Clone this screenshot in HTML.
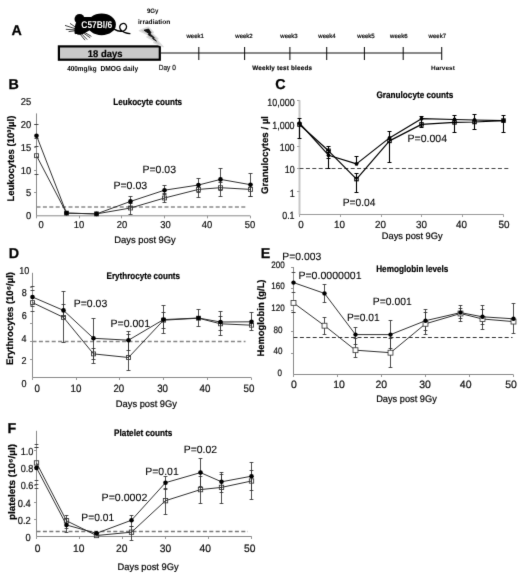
<!DOCTYPE html>
<html lang="en">
<head>
<meta charset="utf-8">
<title>Figure</title>
<style>
html,body{margin:0;padding:0;background:#fff;}
body{width:520px;height:575px;overflow:hidden;font-family:"Liberation Sans",Arial,sans-serif;}
svg{display:block;}
</style>
</head>
<body>
<svg width="520" height="575" viewBox="0 0 520 575" text-rendering="geometricPrecision" font-family='"Liberation Sans", Arial, sans-serif'>
<defs><filter id="soft" x="0" y="0" width="520" height="575" filterUnits="userSpaceOnUse" color-interpolation-filters="sRGB"><feConvolveMatrix order="3" kernelMatrix="0.0074 0.0713 0.0074 0.0713 0.6853 0.0713 0.0074 0.0713 0.0074" edgeMode="duplicate" preserveAlpha="true"/></filter></defs>
<g filter="url(#soft)">
<rect width="520" height="575" fill="#fff"/>
<g id="panelA">
<text x="11.50" y="35.20" font-size="14.3" text-anchor="start" fill="#000" font-weight="bold" stroke="#000" stroke-width="0.25">A</text>
<g fill="#000" stroke="none">
<ellipse cx="101.6" cy="24.4" rx="14.3" ry="10.8"/>
<circle cx="79.6" cy="19" r="5.1"/>
<path d="M76.2 22 C74.6 26 74.2 30 74.6 33.6 C77 35.4 81 35 84 33.4 C87 32 89.4 30.6 91 29 L91 17 L83 17 Z"/>
</g>
<g stroke="#000" stroke-width="0.75" fill="none">
<path d="M65 25.4 L77.4 29.4 M65.8 29.3 L76.5 30 M70 23.4 L78 28.8 M68.6 31.6 L76.5 30.6"/>
<path d="M81.4 33.6 L87.2 39.6 M83.4 33 L90.2 37.8 M80 34 L85 40.2 M84.6 32.4 L91.4 36.4"/>
</g>
<path d="M114.6 29.4 C117.4 31.2 121 31.6 123.6 30.8 C126.4 29.8 127.4 26.6 125.8 24.6 C124 22.6 120.6 23.4 119.8 26.2 C119.2 29 121.6 31.2 124.4 32.4 C126.4 33.2 128.4 33.6 129.9 33.7" fill="none" stroke="#000" stroke-width="1.3" stroke-linecap="round"/>
<text x="81.30" y="28.10" font-size="9.8" text-anchor="start" fill="#fff" font-weight="bold" textLength="30.90" lengthAdjust="spacingAndGlyphs">C57Bl/6</text>
<rect x="58.9" y="46.4" width="100.9" height="13.3" fill="#c9c9c9" stroke="#000" stroke-width="2.2"/>
<text x="87.80" y="57.30" font-size="9.8" text-anchor="start" fill="#000" font-weight="bold" textLength="34.60" lengthAdjust="spacingAndGlyphs" stroke="#000" stroke-width="0.2">18 days</text>
<text x="67.20" y="70.80" font-size="7.3" text-anchor="start" fill="#000" font-weight="bold" textLength="29.40" lengthAdjust="spacingAndGlyphs">400mg/kg</text>
<text x="100.50" y="70.80" font-size="7.3" text-anchor="start" fill="#000" font-weight="bold" textLength="37.60" lengthAdjust="spacingAndGlyphs">DMOG daily</text>
<line x1="160.80" y1="53.05" x2="441.70" y2="53.05" stroke="#111" stroke-width="1.1"/>
<line x1="198.80" y1="47.00" x2="198.80" y2="60.00" stroke="#111" stroke-width="1.05"/>
<line x1="244.60" y1="47.00" x2="244.60" y2="60.00" stroke="#111" stroke-width="1.05"/>
<line x1="289.90" y1="47.00" x2="289.90" y2="60.00" stroke="#111" stroke-width="1.05"/>
<line x1="326.70" y1="47.00" x2="326.70" y2="60.00" stroke="#111" stroke-width="1.05"/>
<line x1="364.40" y1="47.00" x2="364.40" y2="60.00" stroke="#111" stroke-width="1.05"/>
<line x1="403.20" y1="47.00" x2="403.20" y2="60.00" stroke="#111" stroke-width="1.05"/>
<line x1="441.70" y1="47.00" x2="441.70" y2="60.00" stroke="#111" stroke-width="1.05"/>
<text x="186.50" y="38.40" font-size="6.1" text-anchor="start" fill="#000" textLength="17.40" lengthAdjust="spacingAndGlyphs" stroke="#111" stroke-width="0.22">week1</text>
<text x="235.30" y="38.40" font-size="6.1" text-anchor="start" fill="#000" textLength="17.40" lengthAdjust="spacingAndGlyphs" stroke="#111" stroke-width="0.22">week2</text>
<text x="280.30" y="38.40" font-size="6.1" text-anchor="start" fill="#000" textLength="17.40" lengthAdjust="spacingAndGlyphs" stroke="#111" stroke-width="0.22">week3</text>
<text x="318.30" y="38.40" font-size="6.1" text-anchor="start" fill="#000" textLength="17.40" lengthAdjust="spacingAndGlyphs" stroke="#111" stroke-width="0.22">week4</text>
<text x="357.30" y="38.40" font-size="6.1" text-anchor="start" fill="#000" textLength="17.40" lengthAdjust="spacingAndGlyphs" stroke="#111" stroke-width="0.22">week5</text>
<text x="390.10" y="38.40" font-size="6.1" text-anchor="start" fill="#000" textLength="17.40" lengthAdjust="spacingAndGlyphs" stroke="#111" stroke-width="0.22">week6</text>
<text x="428.60" y="38.40" font-size="6.1" text-anchor="start" fill="#000" textLength="17.40" lengthAdjust="spacingAndGlyphs" stroke="#111" stroke-width="0.22">week7</text>
<text x="158.80" y="70.40" font-size="7.4" text-anchor="start" fill="#222" textLength="17.00" lengthAdjust="spacingAndGlyphs" stroke="#111" stroke-width="0.22">Day 0</text>
<text x="252.20" y="70.20" font-size="6.3" text-anchor="start" fill="#000" font-weight="bold" textLength="59.80" lengthAdjust="spacing" stroke="#000" stroke-width="0.15">Weekly test bleeds</text>
<text x="431.00" y="70.00" font-size="6.2" text-anchor="start" fill="#000" font-weight="bold" textLength="23.80" lengthAdjust="spacingAndGlyphs">Harvest</text>
<text x="146.90" y="13.00" font-size="6.5" text-anchor="start" fill="#000" font-weight="bold" textLength="11.60" lengthAdjust="spacingAndGlyphs">9Gy</text>
<text x="138.00" y="23.70" font-size="6.6" text-anchor="start" fill="#000" font-weight="bold" textLength="32.20" lengthAdjust="spacingAndGlyphs">irradiation</text>
<path d="M139.4 30.6 L148.1 27.1 L153.3 32.3 L152.1 33.5 L157.9 38.7 L156.7 39.8 L163.1 46.7 L153.8 42.7 L154.8 41.3 L146.9 36.9 L148.7 35.2 Z" fill="#c4c4c4" stroke="#dcdcdc" stroke-width="1.4" stroke-linejoin="round"/>
<path d="M144 30.2 L148.7 29.1 L151 32.9 L149.8 33.7 L154.4 37.8 L153.6 38.7 L156.4 41 L152.7 38.7 L153.3 37.7 L148.1 34.6 L149 33.5 Z" fill="#111" stroke="#111" stroke-width="0.9" stroke-linejoin="round"/>
</g>
<text x="8.60" y="88.60" font-size="14.3" text-anchor="start" fill="#000" font-weight="bold" stroke="#000" stroke-width="0.25">B</text>
<g>
<line x1="36.50" y1="113.40" x2="36.50" y2="215.80" stroke="#8a8a8a" stroke-width="1"/>
<line x1="36.50" y1="215.80" x2="250.20" y2="215.80" stroke="#8a8a8a" stroke-width="1"/>
<line x1="34.00" y1="192.50" x2="36.50" y2="192.50" stroke="#8a8a8a" stroke-width="0.9"/>
<line x1="34.00" y1="170.50" x2="36.50" y2="170.50" stroke="#8a8a8a" stroke-width="0.9"/>
<line x1="34.00" y1="147.50" x2="36.50" y2="147.50" stroke="#8a8a8a" stroke-width="0.9"/>
<line x1="34.00" y1="124.50" x2="36.50" y2="124.50" stroke="#8a8a8a" stroke-width="0.9"/>
<line x1="36.50" y1="215.80" x2="36.50" y2="218.30" stroke="#8a8a8a" stroke-width="0.9"/>
<line x1="79.50" y1="215.80" x2="79.50" y2="218.30" stroke="#8a8a8a" stroke-width="0.9"/>
<line x1="121.50" y1="215.80" x2="121.50" y2="218.30" stroke="#8a8a8a" stroke-width="0.9"/>
<line x1="164.50" y1="215.80" x2="164.50" y2="218.30" stroke="#8a8a8a" stroke-width="0.9"/>
<line x1="207.50" y1="215.80" x2="207.50" y2="218.30" stroke="#8a8a8a" stroke-width="0.9"/>
<line x1="250.50" y1="215.80" x2="250.50" y2="218.30" stroke="#8a8a8a" stroke-width="0.9"/>
<line x1="36.50" y1="207.00" x2="247.50" y2="207.00" stroke="#8a8a8a" stroke-width="1.5" stroke-dasharray="4 2.4"/>
<path d="M34.50 124.50H38.50M34.50 138.50H38.50" fill="none" stroke="#303030" stroke-width="0.85"/>
<path d="M34.50 146.50H38.50M34.50 174.50H38.50" fill="none" stroke="#303030" stroke-width="0.85"/>
<path d="M130.50 196.50V206.50M128.50 196.50H132.50M128.50 206.50H132.50" fill="none" stroke="#303030" stroke-width="0.85"/>
<path d="M130.50 203.50V214.50M128.50 203.50H132.50M128.50 214.50H132.50" fill="none" stroke="#303030" stroke-width="0.85"/>
<path d="M164.50 185.50V194.50M162.50 185.50H166.50M162.50 194.50H166.50" fill="none" stroke="#303030" stroke-width="0.85"/>
<path d="M164.50 193.50V202.50M162.50 193.50H166.50M162.50 202.50H166.50" fill="none" stroke="#303030" stroke-width="0.85"/>
<path d="M198.50 178.50V192.50M196.50 178.50H200.50M196.50 192.50H200.50" fill="none" stroke="#303030" stroke-width="0.85"/>
<path d="M198.50 184.50V197.50M196.50 184.50H200.50M196.50 197.50H200.50" fill="none" stroke="#303030" stroke-width="0.85"/>
<path d="M220.50 168.50V190.50M218.50 168.50H222.50M218.50 190.50H222.50" fill="none" stroke="#303030" stroke-width="0.85"/>
<path d="M220.50 182.50V196.50M218.50 182.50H222.50M218.50 196.50H222.50" fill="none" stroke="#303030" stroke-width="0.85"/>
<path d="M250.50 173.50V196.50M248.50 173.50H252.50M248.50 196.50H252.50" fill="none" stroke="#303030" stroke-width="0.85"/>
<path d="M250.50 184.50V196.50M248.50 184.50H252.50M248.50 196.50H252.50" fill="none" stroke="#303030" stroke-width="0.85"/>
<polyline points="36.50,155.70 66.50,213.10 96.50,213.90 130.50,208.00 164.50,198.00 198.50,189.40 220.50,187.70 250.50,189.40" fill="none" stroke="#262626" stroke-width="0.95" stroke-linejoin="round"/>
<polyline points="36.50,135.70 66.50,213.10 96.50,213.90 130.50,201.40 164.50,190.20 198.50,185.00 220.50,179.40 250.50,184.70" fill="none" stroke="#262626" stroke-width="0.95" stroke-linejoin="round"/>
<rect x="34.55" y="153.75" width="3.9" height="3.9" fill="none" stroke="#3a3a3a" stroke-width="0.9"/>
<rect x="64.55" y="211.15" width="3.9" height="3.9" fill="none" stroke="#3a3a3a" stroke-width="0.9"/>
<rect x="94.55" y="211.95" width="3.9" height="3.9" fill="none" stroke="#3a3a3a" stroke-width="0.9"/>
<rect x="128.55" y="206.05" width="3.9" height="3.9" fill="none" stroke="#3a3a3a" stroke-width="0.9"/>
<rect x="162.55" y="196.05" width="3.9" height="3.9" fill="none" stroke="#3a3a3a" stroke-width="0.9"/>
<rect x="196.55" y="187.45" width="3.9" height="3.9" fill="none" stroke="#3a3a3a" stroke-width="0.9"/>
<rect x="218.55" y="185.75" width="3.9" height="3.9" fill="none" stroke="#3a3a3a" stroke-width="0.9"/>
<rect x="248.55" y="187.45" width="3.9" height="3.9" fill="none" stroke="#3a3a3a" stroke-width="0.9"/>
<circle cx="36.50" cy="135.70" r="2.3" fill="#000"/>
<circle cx="66.50" cy="213.10" r="2.3" fill="#000"/>
<circle cx="96.50" cy="213.90" r="2.3" fill="#000"/>
<circle cx="130.50" cy="201.40" r="2.3" fill="#000"/>
<circle cx="164.50" cy="190.20" r="2.3" fill="#000"/>
<circle cx="198.50" cy="185.00" r="2.3" fill="#000"/>
<circle cx="220.50" cy="179.40" r="2.3" fill="#000"/>
<circle cx="250.50" cy="184.70" r="2.3" fill="#000"/>
<text transform="translate(31.3 105.2) scale(0.94 1)" font-size="10.0" text-anchor="end" fill="#111" stroke="#111" stroke-width="0.22">25</text>
<text transform="translate(31.3 128) scale(0.94 1)" font-size="10.0" text-anchor="end" fill="#111" stroke="#111" stroke-width="0.22">20</text>
<text transform="translate(31.3 150.9) scale(0.94 1)" font-size="10.0" text-anchor="end" fill="#111" stroke="#111" stroke-width="0.22">15</text>
<text transform="translate(31.3 173.5) scale(0.94 1)" font-size="10.0" text-anchor="end" fill="#111" stroke="#111" stroke-width="0.22">10</text>
<text transform="translate(31.3 196.3) scale(0.94 1)" font-size="10.0" text-anchor="end" fill="#111" stroke="#111" stroke-width="0.22">5</text>
<text transform="translate(31.3 219.1) scale(0.94 1)" font-size="10.0" text-anchor="end" fill="#111" stroke="#111" stroke-width="0.22">0</text>
<text transform="translate(41 228.3) scale(0.94 1)" font-size="10.0" text-anchor="middle" fill="#111" stroke="#111" stroke-width="0.22">0</text>
<text transform="translate(79 228.3) scale(0.94 1)" font-size="10.0" text-anchor="middle" fill="#111" stroke="#111" stroke-width="0.22">10</text>
<text transform="translate(122 228.3) scale(0.94 1)" font-size="10.0" text-anchor="middle" fill="#111" stroke="#111" stroke-width="0.22">20</text>
<text transform="translate(165.5 228.3) scale(0.94 1)" font-size="10.0" text-anchor="middle" fill="#111" stroke="#111" stroke-width="0.22">30</text>
<text transform="translate(207 228.3) scale(0.94 1)" font-size="10.0" text-anchor="middle" fill="#111" stroke="#111" stroke-width="0.22">40</text>
<text transform="translate(250 228.3) scale(0.94 1)" font-size="10.0" text-anchor="middle" fill="#111" stroke="#111" stroke-width="0.22">50</text>
<text x="113.30" y="104.92" font-size="9.4" text-anchor="start" fill="#000" font-weight="bold" textLength="68.80" lengthAdjust="spacingAndGlyphs" stroke="#000" stroke-width="0.2">Leukocyte counts</text>
<text x="114.30" y="242.85" font-size="9.5" text-anchor="start" fill="#000" textLength="61.50" lengthAdjust="spacingAndGlyphs" stroke="#111" stroke-width="0.22">Days post 9Gy</text>
<text transform="translate(14.20 201.60) rotate(-90)" font-size="9.6" font-weight="bold" fill="#000" stroke="#000" stroke-width="0.2" textLength="86.00" lengthAdjust="spacingAndGlyphs">Leukocytes (10³/µl)</text>
<text x="142.50" y="172.76" font-size="10.5" text-anchor="start" fill="#000" textLength="33.50" lengthAdjust="spacingAndGlyphs" stroke="#000" stroke-width="0.08">P=0.03</text>
<text x="113.40" y="188.76" font-size="10.5" text-anchor="start" fill="#000" textLength="33.80" lengthAdjust="spacingAndGlyphs" stroke="#000" stroke-width="0.08">P=0.03</text>
</g>
<text x="275.20" y="89.10" font-size="14.3" text-anchor="start" fill="#000" font-weight="bold" stroke="#000" stroke-width="0.25">C</text>
<g>
<line x1="299.50" y1="100.30" x2="299.50" y2="214.50" stroke="#c6c6c6" stroke-width="2.0"/>
<line x1="299.50" y1="214.50" x2="503.60" y2="214.50" stroke="#999" stroke-width="1.2"/>
<line x1="297.00" y1="100.50" x2="299.50" y2="100.50" stroke="#999" stroke-width="0.9"/>
<line x1="297.00" y1="123.50" x2="299.50" y2="123.50" stroke="#999" stroke-width="0.9"/>
<line x1="297.00" y1="146.50" x2="299.50" y2="146.50" stroke="#999" stroke-width="0.9"/>
<line x1="297.00" y1="168.50" x2="299.50" y2="168.50" stroke="#999" stroke-width="0.9"/>
<line x1="297.00" y1="191.50" x2="299.50" y2="191.50" stroke="#999" stroke-width="0.9"/>
<line x1="299.50" y1="214.50" x2="299.50" y2="217.00" stroke="#999" stroke-width="0.9"/>
<line x1="340.50" y1="214.50" x2="340.50" y2="217.00" stroke="#999" stroke-width="0.9"/>
<line x1="381.50" y1="214.50" x2="381.50" y2="217.00" stroke="#999" stroke-width="0.9"/>
<line x1="421.50" y1="214.50" x2="421.50" y2="217.00" stroke="#999" stroke-width="0.9"/>
<line x1="462.50" y1="214.50" x2="462.50" y2="217.00" stroke="#999" stroke-width="0.9"/>
<line x1="503.50" y1="214.50" x2="503.50" y2="217.00" stroke="#999" stroke-width="0.9"/>
<line x1="299.50" y1="168.50" x2="510.00" y2="168.50" stroke="#444" stroke-width="1.0" stroke-dasharray="4 2.4"/>
<path d="M299.50 118.50V138.50M297.50 118.50H301.50M297.50 138.50H301.50" fill="none" stroke="#000" stroke-width="1.1"/>
<path d="M328.50 146.50V168.50M326.50 146.50H330.50M326.50 168.50H330.50" fill="none" stroke="#000" stroke-width="1.1"/>
<path d="M328.50 150.50V158.50M326.50 150.50H330.50M326.50 158.50H330.50" fill="none" stroke="#000" stroke-width="1.1"/>
<path d="M356.50 156.50V163.50M354.50 156.50H358.50M354.50 163.50H358.50" fill="none" stroke="#000" stroke-width="1.1"/>
<path d="M356.50 173.50V192.50M354.50 173.50H358.50M354.50 192.50H358.50" fill="none" stroke="#000" stroke-width="1.1"/>
<path d="M389.50 131.50V162.50M387.50 131.50H391.50M387.50 162.50H391.50" fill="none" stroke="#000" stroke-width="1.1"/>
<path d="M421.50 116.50V127.50M419.50 116.50H423.50M419.50 127.50H423.50" fill="none" stroke="#000" stroke-width="1.1"/>
<path d="M454.50 115.50V132.50M452.50 115.50H456.50M452.50 132.50H456.50" fill="none" stroke="#000" stroke-width="1.1"/>
<path d="M474.50 114.50V129.50M472.50 114.50H476.50M472.50 129.50H476.50" fill="none" stroke="#000" stroke-width="1.1"/>
<path d="M503.50 115.50V132.50M501.50 115.50H505.50M501.50 132.50H505.50" fill="none" stroke="#000" stroke-width="1.1"/>
<polyline points="299.50,124.50 328.50,150.80 356.50,179.10 389.50,140.90 421.50,124.40 454.50,122.40 474.50,122.00 503.50,120.60" fill="none" stroke="#000" stroke-width="1.2" stroke-linejoin="round"/>
<polyline points="299.50,123.20 328.50,155.20 356.50,163.90 389.50,137.90 421.50,118.70 454.50,119.50 474.50,120.00 503.50,120.60" fill="none" stroke="#000" stroke-width="1.2" stroke-linejoin="round"/>
<rect x="297.80" y="122.80" width="3.4" height="3.4" fill="none" stroke="#000" stroke-width="1.1"/>
<rect x="326.80" y="149.10" width="3.4" height="3.4" fill="none" stroke="#000" stroke-width="1.1"/>
<rect x="354.80" y="177.40" width="3.4" height="3.4" fill="none" stroke="#000" stroke-width="1.1"/>
<rect x="387.80" y="139.20" width="3.4" height="3.4" fill="none" stroke="#000" stroke-width="1.1"/>
<rect x="419.80" y="122.70" width="3.4" height="3.4" fill="none" stroke="#000" stroke-width="1.1"/>
<rect x="452.80" y="120.70" width="3.4" height="3.4" fill="none" stroke="#000" stroke-width="1.1"/>
<rect x="472.80" y="120.30" width="3.4" height="3.4" fill="none" stroke="#000" stroke-width="1.1"/>
<rect x="501.80" y="118.90" width="3.4" height="3.4" fill="none" stroke="#000" stroke-width="1.1"/>
<circle cx="299.50" cy="123.20" r="1.9" fill="#000"/>
<circle cx="328.50" cy="155.20" r="1.9" fill="#000"/>
<circle cx="356.50" cy="163.90" r="1.9" fill="#000"/>
<circle cx="389.50" cy="137.90" r="1.9" fill="#000"/>
<circle cx="421.50" cy="118.70" r="1.9" fill="#000"/>
<circle cx="454.50" cy="119.50" r="1.9" fill="#000"/>
<circle cx="474.50" cy="120.00" r="1.9" fill="#000"/>
<circle cx="503.50" cy="120.60" r="1.9" fill="#000"/>
<text transform="translate(294.6 106.14) scale(0.86 1)" font-size="10.4" text-anchor="end" fill="#111" stroke="#111" stroke-width="0.22">10,000</text>
<text transform="translate(294.6 128.54) scale(0.86 1)" font-size="10.4" text-anchor="end" fill="#111" stroke="#111" stroke-width="0.22">1,000</text>
<text transform="translate(294.6 150.84) scale(0.86 1)" font-size="10.4" text-anchor="end" fill="#111" stroke="#111" stroke-width="0.22">100</text>
<text transform="translate(294.6 172.64) scale(0.86 1)" font-size="10.4" text-anchor="end" fill="#111" stroke="#111" stroke-width="0.22">10</text>
<text transform="translate(294.6 197.14) scale(0.86 1)" font-size="10.4" text-anchor="end" fill="#111" stroke="#111" stroke-width="0.22">1</text>
<text transform="translate(294.6 219.44) scale(0.86 1)" font-size="10.4" text-anchor="end" fill="#111" stroke="#111" stroke-width="0.22">0.1</text>
<text transform="translate(301 228.44) scale(0.95 1)" font-size="10.4" text-anchor="middle" fill="#111" stroke="#111" stroke-width="0.22">0</text>
<text transform="translate(339.5 228.44) scale(0.95 1)" font-size="10.4" text-anchor="middle" fill="#111" stroke="#111" stroke-width="0.22">10</text>
<text transform="translate(380.5 228.44) scale(0.95 1)" font-size="10.4" text-anchor="middle" fill="#111" stroke="#111" stroke-width="0.22">20</text>
<text transform="translate(421.5 228.44) scale(0.95 1)" font-size="10.4" text-anchor="middle" fill="#111" stroke="#111" stroke-width="0.22">30</text>
<text transform="translate(461.5 228.44) scale(0.95 1)" font-size="10.4" text-anchor="middle" fill="#111" stroke="#111" stroke-width="0.22">40</text>
<text transform="translate(504 228.44) scale(0.95 1)" font-size="10.4" text-anchor="middle" fill="#111" stroke="#111" stroke-width="0.22">50</text>
<text x="376.40" y="98.12" font-size="9.4" text-anchor="start" fill="#000" font-weight="bold" textLength="77.00" lengthAdjust="spacingAndGlyphs" stroke="#000" stroke-width="0.2">Granulocyte counts</text>
<text x="381.80" y="239.22" font-size="9.4" text-anchor="start" fill="#000" textLength="60.80" lengthAdjust="spacingAndGlyphs" stroke="#111" stroke-width="0.22">Days post 9Gy</text>
<text transform="translate(268.20 194.00) rotate(-90)" font-size="9.6" font-weight="bold" fill="#000" stroke="#000" stroke-width="0.2" textLength="78.00" lengthAdjust="spacingAndGlyphs">Granulocytes / µl</text>
<text x="342.70" y="206.26" font-size="10.5" text-anchor="start" fill="#000" textLength="32.80" lengthAdjust="spacingAndGlyphs" stroke="#000" stroke-width="0.08">P=0.04</text>
<text x="407.50" y="142.26" font-size="10.5" text-anchor="start" fill="#000" textLength="39.50" lengthAdjust="spacingAndGlyphs" stroke="#000" stroke-width="0.08">P=0.004</text>
</g>
<text x="8.80" y="258.00" font-size="14.3" text-anchor="start" fill="#000" font-weight="bold" stroke="#000" stroke-width="0.25">D</text>
<g>
<line x1="32.50" y1="272.80" x2="32.50" y2="377.50" stroke="#8a8a8a" stroke-width="1"/>
<line x1="32.50" y1="377.50" x2="251.10" y2="377.50" stroke="#8a8a8a" stroke-width="1"/>
<line x1="30.00" y1="287.50" x2="32.50" y2="287.50" stroke="#8a8a8a" stroke-width="0.9"/>
<line x1="30.00" y1="305.50" x2="32.50" y2="305.50" stroke="#8a8a8a" stroke-width="0.9"/>
<line x1="30.00" y1="323.50" x2="32.50" y2="323.50" stroke="#8a8a8a" stroke-width="0.9"/>
<line x1="30.00" y1="341.50" x2="32.50" y2="341.50" stroke="#8a8a8a" stroke-width="0.9"/>
<line x1="30.00" y1="359.50" x2="32.50" y2="359.50" stroke="#8a8a8a" stroke-width="0.9"/>
<line x1="32.50" y1="377.50" x2="32.50" y2="380.00" stroke="#8a8a8a" stroke-width="0.9"/>
<line x1="76.50" y1="377.50" x2="76.50" y2="380.00" stroke="#8a8a8a" stroke-width="0.9"/>
<line x1="119.50" y1="377.50" x2="119.50" y2="380.00" stroke="#8a8a8a" stroke-width="0.9"/>
<line x1="163.50" y1="377.50" x2="163.50" y2="380.00" stroke="#8a8a8a" stroke-width="0.9"/>
<line x1="207.50" y1="377.50" x2="207.50" y2="380.00" stroke="#8a8a8a" stroke-width="0.9"/>
<line x1="251.50" y1="377.50" x2="251.50" y2="380.00" stroke="#8a8a8a" stroke-width="0.9"/>
<line x1="32.50" y1="341.50" x2="245.50" y2="341.50" stroke="#858585" stroke-width="1.4" stroke-dasharray="4 2.4"/>
<path d="M30.50 286.50H34.50M30.50 311.50H34.50" fill="none" stroke="#303030" stroke-width="0.85"/>
<path d="M30.50 290.50H34.50M30.50 306.50H34.50" fill="none" stroke="#303030" stroke-width="0.85"/>
<path d="M63.50 291.50V342.50M61.50 291.50H65.50M61.50 342.50H65.50" fill="none" stroke="#303030" stroke-width="0.85"/>
<path d="M63.50 304.50V316.50M61.50 304.50H65.50M61.50 316.50H65.50" fill="none" stroke="#303030" stroke-width="0.85"/>
<path d="M93.50 318.50V363.50M91.50 318.50H95.50M91.50 363.50H95.50" fill="none" stroke="#303030" stroke-width="0.85"/>
<path d="M93.50 348.50V359.50M91.50 348.50H95.50M91.50 359.50H95.50" fill="none" stroke="#303030" stroke-width="0.85"/>
<path d="M128.50 331.50V370.50M126.50 331.50H130.50M126.50 370.50H130.50" fill="none" stroke="#303030" stroke-width="0.85"/>
<path d="M128.50 334.50V350.50M126.50 334.50H130.50M126.50 350.50H130.50" fill="none" stroke="#303030" stroke-width="0.85"/>
<path d="M163.50 305.50V333.50M161.50 305.50H165.50M161.50 333.50H165.50" fill="none" stroke="#303030" stroke-width="0.85"/>
<path d="M163.50 312.50V328.50M161.50 312.50H165.50M161.50 328.50H165.50" fill="none" stroke="#303030" stroke-width="0.85"/>
<path d="M198.50 309.50V326.50M196.50 309.50H200.50M196.50 326.50H200.50" fill="none" stroke="#303030" stroke-width="0.85"/>
<path d="M220.50 311.50V335.50M218.50 311.50H222.50M218.50 335.50H222.50" fill="none" stroke="#303030" stroke-width="0.85"/>
<path d="M220.50 316.50V330.50M218.50 316.50H222.50M218.50 330.50H222.50" fill="none" stroke="#303030" stroke-width="0.85"/>
<path d="M251.50 312.50V330.50M249.50 312.50H253.50M249.50 330.50H253.50" fill="none" stroke="#303030" stroke-width="0.85"/>
<polyline points="32.50,302.60 63.50,317.40 93.50,353.90 128.50,357.50 163.50,320.20 198.50,318.20 220.50,323.80 251.50,325.20" fill="none" stroke="#262626" stroke-width="0.95" stroke-linejoin="round"/>
<polyline points="32.50,297.00 63.50,310.40 93.50,338.30 128.50,340.20 163.50,319.60 198.50,318.00 220.50,322.00 251.50,321.80" fill="none" stroke="#262626" stroke-width="0.95" stroke-linejoin="round"/>
<rect x="30.55" y="300.65" width="3.9" height="3.9" fill="none" stroke="#3a3a3a" stroke-width="0.9"/>
<rect x="61.55" y="315.45" width="3.9" height="3.9" fill="none" stroke="#3a3a3a" stroke-width="0.9"/>
<rect x="91.55" y="351.95" width="3.9" height="3.9" fill="none" stroke="#3a3a3a" stroke-width="0.9"/>
<rect x="126.55" y="355.55" width="3.9" height="3.9" fill="none" stroke="#3a3a3a" stroke-width="0.9"/>
<rect x="161.55" y="318.25" width="3.9" height="3.9" fill="none" stroke="#3a3a3a" stroke-width="0.9"/>
<rect x="196.55" y="316.25" width="3.9" height="3.9" fill="none" stroke="#3a3a3a" stroke-width="0.9"/>
<rect x="218.55" y="321.85" width="3.9" height="3.9" fill="none" stroke="#3a3a3a" stroke-width="0.9"/>
<rect x="249.55" y="323.25" width="3.9" height="3.9" fill="none" stroke="#3a3a3a" stroke-width="0.9"/>
<circle cx="32.50" cy="297.00" r="2.3" fill="#000"/>
<circle cx="63.50" cy="310.40" r="2.3" fill="#000"/>
<circle cx="93.50" cy="338.30" r="2.3" fill="#000"/>
<circle cx="128.50" cy="340.20" r="2.3" fill="#000"/>
<circle cx="163.50" cy="319.60" r="2.3" fill="#000"/>
<circle cx="198.50" cy="318.00" r="2.3" fill="#000"/>
<circle cx="220.50" cy="322.00" r="2.3" fill="#000"/>
<circle cx="251.50" cy="321.80" r="2.3" fill="#000"/>
<text transform="translate(29.2 273.7) scale(0.9 1)" font-size="10.0" text-anchor="end" fill="#111" stroke="#111" stroke-width="0.22">10</text>
<text transform="translate(26.8 295.8) scale(0.9 1)" font-size="10.0" text-anchor="end" fill="#111" stroke="#111" stroke-width="0.22">8</text>
<text transform="translate(26.8 318.7) scale(0.9 1)" font-size="10.0" text-anchor="end" fill="#111" stroke="#111" stroke-width="0.22">6</text>
<text transform="translate(26.6 342) scale(0.9 1)" font-size="10.0" text-anchor="end" fill="#111" stroke="#111" stroke-width="0.22">4</text>
<text transform="translate(26.6 363.8) scale(0.9 1)" font-size="10.0" text-anchor="end" fill="#111" stroke="#111" stroke-width="0.22">2</text>
<text transform="translate(26.6 386.9) scale(0.9 1)" font-size="10.0" text-anchor="end" fill="#111" stroke="#111" stroke-width="0.22">0</text>
<text transform="translate(37.2 391.51) scale(0.92 1)" font-size="10.6" text-anchor="middle" fill="#111" stroke="#111" stroke-width="0.22">0</text>
<text transform="translate(76 391.51) scale(0.92 1)" font-size="10.6" text-anchor="middle" fill="#111" stroke="#111" stroke-width="0.22">10</text>
<text transform="translate(118.8 391.51) scale(0.92 1)" font-size="10.6" text-anchor="middle" fill="#111" stroke="#111" stroke-width="0.22">20</text>
<text transform="translate(162.6 391.51) scale(0.92 1)" font-size="10.6" text-anchor="middle" fill="#111" stroke="#111" stroke-width="0.22">30</text>
<text transform="translate(205 391.51) scale(0.92 1)" font-size="10.6" text-anchor="middle" fill="#111" stroke="#111" stroke-width="0.22">40</text>
<text transform="translate(249 391.51) scale(0.92 1)" font-size="10.6" text-anchor="middle" fill="#111" stroke="#111" stroke-width="0.22">50</text>
<text x="106.60" y="278.62" font-size="9.4" text-anchor="start" fill="#000" font-weight="bold" textLength="73.40" lengthAdjust="spacingAndGlyphs" stroke="#000" stroke-width="0.2">Erythrocyte counts</text>
<text x="115.80" y="407.45" font-size="9.5" text-anchor="start" fill="#000" textLength="61.20" lengthAdjust="spacingAndGlyphs" stroke="#111" stroke-width="0.22">Days post 9Gy</text>
<text transform="translate(12.80 365.00) rotate(-90)" font-size="9.6" font-weight="bold" fill="#000" stroke="#000" stroke-width="0.2" textLength="93.00" lengthAdjust="spacingAndGlyphs">Erythrocytes (10⁶/µl)</text>
<text x="73.80" y="307.26" font-size="10.5" text-anchor="start" fill="#000" textLength="33.40" lengthAdjust="spacingAndGlyphs" stroke="#000" stroke-width="0.08">P=0.03</text>
<text x="110.50" y="326.96" font-size="10.5" text-anchor="start" fill="#000" textLength="39.50" lengthAdjust="spacingAndGlyphs" stroke="#000" stroke-width="0.08">P=0.001</text>
</g>
<text x="260.80" y="258.20" font-size="14.3" text-anchor="start" fill="#000" font-weight="bold" stroke="#000" stroke-width="0.25">E</text>
<g>
<line x1="293.50" y1="267.00" x2="293.50" y2="374.50" stroke="#8a8a8a" stroke-width="1"/>
<line x1="293.50" y1="374.50" x2="513.30" y2="374.50" stroke="#8a8a8a" stroke-width="1"/>
<line x1="291.00" y1="267.50" x2="293.50" y2="267.50" stroke="#8a8a8a" stroke-width="0.9"/>
<line x1="291.00" y1="288.50" x2="293.50" y2="288.50" stroke="#8a8a8a" stroke-width="0.9"/>
<line x1="291.00" y1="310.50" x2="293.50" y2="310.50" stroke="#8a8a8a" stroke-width="0.9"/>
<line x1="291.00" y1="331.50" x2="293.50" y2="331.50" stroke="#8a8a8a" stroke-width="0.9"/>
<line x1="291.00" y1="353.50" x2="293.50" y2="353.50" stroke="#8a8a8a" stroke-width="0.9"/>
<line x1="293.50" y1="374.50" x2="293.50" y2="377.00" stroke="#8a8a8a" stroke-width="0.9"/>
<line x1="337.50" y1="374.50" x2="337.50" y2="377.00" stroke="#8a8a8a" stroke-width="0.9"/>
<line x1="381.50" y1="374.50" x2="381.50" y2="377.00" stroke="#8a8a8a" stroke-width="0.9"/>
<line x1="425.50" y1="374.50" x2="425.50" y2="377.00" stroke="#8a8a8a" stroke-width="0.9"/>
<line x1="469.50" y1="374.50" x2="469.50" y2="377.00" stroke="#8a8a8a" stroke-width="0.9"/>
<line x1="513.50" y1="374.50" x2="513.50" y2="377.00" stroke="#8a8a8a" stroke-width="0.9"/>
<line x1="293.50" y1="337.50" x2="512.50" y2="337.50" stroke="#333" stroke-width="1.0" stroke-dasharray="4 2.4"/>
<path d="M291.60 272.50H295.40M291.60 312.50H295.40" fill="none" stroke="#303030" stroke-width="0.85"/>
<path d="M291.60 292.50H295.40M291.60 312.50H295.40" fill="none" stroke="#303030" stroke-width="0.85"/>
<path d="M324.50 284.50V302.50M322.60 284.50H326.40M322.60 302.50H326.40" fill="none" stroke="#303030" stroke-width="0.85"/>
<path d="M324.50 317.50V334.50M322.60 317.50H326.40M322.60 334.50H326.40" fill="none" stroke="#303030" stroke-width="0.85"/>
<path d="M355.50 327.50V357.50M353.60 327.50H357.40M353.60 357.50H357.40" fill="none" stroke="#303030" stroke-width="0.85"/>
<path d="M355.50 338.50V344.50M353.60 338.50H357.40M353.60 344.50H357.40" fill="none" stroke="#303030" stroke-width="0.85"/>
<path d="M390.50 320.50V367.50M388.60 320.50H392.40M388.60 367.50H392.40" fill="none" stroke="#303030" stroke-width="0.85"/>
<path d="M390.50 338.50V348.50M388.60 338.50H392.40M388.60 348.50H392.40" fill="none" stroke="#303030" stroke-width="0.85"/>
<path d="M425.50 309.50V334.50M423.60 309.50H427.40M423.60 334.50H427.40" fill="none" stroke="#303030" stroke-width="0.85"/>
<path d="M425.50 312.50V330.50M423.60 312.50H427.40M423.60 330.50H427.40" fill="none" stroke="#303030" stroke-width="0.85"/>
<path d="M460.50 305.50V321.50M458.60 305.50H462.40M458.60 321.50H462.40" fill="none" stroke="#303030" stroke-width="0.85"/>
<path d="M460.50 308.50V318.50M458.60 308.50H462.40M458.60 318.50H462.40" fill="none" stroke="#303030" stroke-width="0.85"/>
<path d="M482.50 305.50V329.50M480.60 305.50H484.40M480.60 329.50H484.40" fill="none" stroke="#303030" stroke-width="0.85"/>
<path d="M482.50 309.50V324.50M480.60 309.50H484.40M480.60 324.50H484.40" fill="none" stroke="#303030" stroke-width="0.85"/>
<path d="M513.50 303.50V333.50M511.60 303.50H515.40M511.60 333.50H515.40" fill="none" stroke="#303030" stroke-width="0.85"/>
<polyline points="293.50,302.90 324.50,325.70 355.50,350.20 390.50,352.70 425.50,323.80 460.50,313.50 482.50,319.00 513.50,321.60" fill="none" stroke="#262626" stroke-width="0.95" stroke-linejoin="round"/>
<polyline points="293.50,282.60 324.50,293.40 355.50,334.60 390.50,334.60 425.50,320.70 460.50,312.60 482.50,316.80 513.50,318.80" fill="none" stroke="#262626" stroke-width="0.95" stroke-linejoin="round"/>
<rect x="291.05" y="300.45" width="4.9" height="4.9" fill="#fff" stroke="#3a3a3a" stroke-width="0.85"/>
<rect x="322.05" y="323.25" width="4.9" height="4.9" fill="#fff" stroke="#3a3a3a" stroke-width="0.85"/>
<rect x="353.05" y="347.75" width="4.9" height="4.9" fill="#fff" stroke="#3a3a3a" stroke-width="0.85"/>
<rect x="388.05" y="350.25" width="4.9" height="4.9" fill="#fff" stroke="#3a3a3a" stroke-width="0.85"/>
<rect x="423.05" y="321.35" width="4.9" height="4.9" fill="#fff" stroke="#3a3a3a" stroke-width="0.85"/>
<rect x="458.05" y="311.05" width="4.9" height="4.9" fill="#fff" stroke="#3a3a3a" stroke-width="0.85"/>
<rect x="480.05" y="316.55" width="4.9" height="4.9" fill="#fff" stroke="#3a3a3a" stroke-width="0.85"/>
<rect x="511.05" y="319.15" width="4.9" height="4.9" fill="#fff" stroke="#3a3a3a" stroke-width="0.85"/>
<circle cx="293.50" cy="282.60" r="2.2" fill="#000"/>
<circle cx="324.50" cy="293.40" r="2.2" fill="#000"/>
<circle cx="355.50" cy="334.60" r="2.2" fill="#000"/>
<circle cx="390.50" cy="334.60" r="2.2" fill="#000"/>
<circle cx="425.50" cy="320.70" r="2.2" fill="#000"/>
<circle cx="460.50" cy="312.60" r="2.2" fill="#000"/>
<circle cx="482.50" cy="316.80" r="2.2" fill="#000"/>
<circle cx="513.50" cy="318.80" r="2.2" fill="#000"/>
<text transform="translate(278 267.89) scale(0.86 1)" font-size="9.4" text-anchor="middle" fill="#111" stroke="#111" stroke-width="0.22">200</text>
<text transform="translate(278 289.49) scale(0.86 1)" font-size="9.4" text-anchor="middle" fill="#111" stroke="#111" stroke-width="0.22">160</text>
<text transform="translate(278 311.09) scale(0.86 1)" font-size="9.4" text-anchor="middle" fill="#111" stroke="#111" stroke-width="0.22">120</text>
<text transform="translate(278 332.89) scale(0.86 1)" font-size="9.4" text-anchor="middle" fill="#111" stroke="#111" stroke-width="0.22">80</text>
<text transform="translate(278 354.49) scale(0.86 1)" font-size="9.4" text-anchor="middle" fill="#111" stroke="#111" stroke-width="0.22">40</text>
<text transform="translate(279.8 376.09) scale(0.86 1)" font-size="9.4" text-anchor="middle" fill="#111" stroke="#111" stroke-width="0.22">0</text>
<text transform="translate(293.8 387.91) scale(0.99 1)" font-size="10.6" text-anchor="middle" fill="#111" stroke="#111" stroke-width="0.22">0</text>
<text transform="translate(339 387.91) scale(0.99 1)" font-size="10.6" text-anchor="middle" fill="#111" stroke="#111" stroke-width="0.22">10</text>
<text transform="translate(381.3 387.91) scale(0.99 1)" font-size="10.6" text-anchor="middle" fill="#111" stroke="#111" stroke-width="0.22">20</text>
<text transform="translate(425 387.91) scale(0.99 1)" font-size="10.6" text-anchor="middle" fill="#111" stroke="#111" stroke-width="0.22">30</text>
<text transform="translate(465.7 387.91) scale(0.99 1)" font-size="10.6" text-anchor="middle" fill="#111" stroke="#111" stroke-width="0.22">40</text>
<text transform="translate(511 387.91) scale(0.99 1)" font-size="10.6" text-anchor="middle" fill="#111" stroke="#111" stroke-width="0.22">50</text>
<text x="376.20" y="272.02" font-size="9.4" text-anchor="start" fill="#000" font-weight="bold" textLength="72.20" lengthAdjust="spacingAndGlyphs" stroke="#000" stroke-width="0.2">Hemoglobin levels</text>
<text x="376.20" y="401.55" font-size="9.5" text-anchor="start" fill="#000" textLength="60.60" lengthAdjust="spacingAndGlyphs" stroke="#111" stroke-width="0.22">Days post 9Gy</text>
<text transform="translate(264.30 356.50) rotate(-90)" font-size="9.6" font-weight="bold" fill="#000" stroke="#000" stroke-width="0.2" textLength="77.00" lengthAdjust="spacingAndGlyphs">Hemoglobin (g/L)</text>
<text x="282.30" y="260.46" font-size="10.5" text-anchor="start" fill="#000" textLength="38.90" lengthAdjust="spacingAndGlyphs" stroke="#000" stroke-width="0.08">P=0.003</text>
<text x="298.40" y="279.26" font-size="10.5" text-anchor="start" fill="#000" textLength="63.20" lengthAdjust="spacingAndGlyphs" stroke="#000" stroke-width="0.08">P=0.0000001</text>
<text x="346.90" y="320.56" font-size="10.5" text-anchor="start" fill="#000" textLength="32.80" lengthAdjust="spacingAndGlyphs" stroke="#000" stroke-width="0.08">P=0.01</text>
<text x="372.80" y="305.26" font-size="10.5" text-anchor="start" fill="#000" textLength="38.90" lengthAdjust="spacingAndGlyphs" stroke="#000" stroke-width="0.08">P=0.001</text>
</g>
<text x="7.60" y="433.40" font-size="14.3" text-anchor="start" fill="#000" font-weight="bold" stroke="#000" stroke-width="0.25">F</text>
<g>
<line x1="36.50" y1="430.80" x2="36.50" y2="536.50" stroke="#8a8a8a" stroke-width="1"/>
<line x1="36.50" y1="536.50" x2="251.70" y2="536.50" stroke="#8a8a8a" stroke-width="1"/>
<line x1="34.00" y1="450.50" x2="36.50" y2="450.50" stroke="#8a8a8a" stroke-width="0.9"/>
<line x1="34.00" y1="467.50" x2="36.50" y2="467.50" stroke="#8a8a8a" stroke-width="0.9"/>
<line x1="34.00" y1="485.50" x2="36.50" y2="485.50" stroke="#8a8a8a" stroke-width="0.9"/>
<line x1="34.00" y1="502.50" x2="36.50" y2="502.50" stroke="#8a8a8a" stroke-width="0.9"/>
<line x1="34.00" y1="519.50" x2="36.50" y2="519.50" stroke="#8a8a8a" stroke-width="0.9"/>
<line x1="36.50" y1="536.50" x2="36.50" y2="539.00" stroke="#8a8a8a" stroke-width="0.9"/>
<line x1="79.50" y1="536.50" x2="79.50" y2="539.00" stroke="#8a8a8a" stroke-width="0.9"/>
<line x1="122.50" y1="536.50" x2="122.50" y2="539.00" stroke="#8a8a8a" stroke-width="0.9"/>
<line x1="165.50" y1="536.50" x2="165.50" y2="539.00" stroke="#8a8a8a" stroke-width="0.9"/>
<line x1="208.50" y1="536.50" x2="208.50" y2="539.00" stroke="#8a8a8a" stroke-width="0.9"/>
<line x1="251.50" y1="536.50" x2="251.50" y2="539.00" stroke="#8a8a8a" stroke-width="0.9"/>
<line x1="36.50" y1="531.50" x2="248.00" y2="531.50" stroke="#787878" stroke-width="1.3" stroke-dasharray="4 2.4"/>
<path d="M34.60 444.50H38.40M34.60 488.50H38.40" fill="none" stroke="#303030" stroke-width="0.85"/>
<path d="M34.60 447.50H38.40M34.60 480.50H38.40" fill="none" stroke="#303030" stroke-width="0.85"/>
<path d="M34.60 447.50H38.40M34.60 484.50H38.40" fill="none" stroke="#303030" stroke-width="0.85"/>
<path d="M66.50 515.50V532.50M64.60 515.50H68.40M64.60 532.50H68.40" fill="none" stroke="#303030" stroke-width="0.85"/>
<path d="M66.50 518.50V528.50M64.60 518.50H68.40M64.60 528.50H68.40" fill="none" stroke="#303030" stroke-width="0.85"/>
<path d="M131.50 515.50V526.50M129.60 515.50H133.40M129.60 526.50H133.40" fill="none" stroke="#303030" stroke-width="0.85"/>
<path d="M131.50 526.50V540.50M129.60 526.50H133.40M129.60 540.50H133.40" fill="none" stroke="#303030" stroke-width="0.85"/>
<path d="M165.50 476.50V489.50M163.60 476.50H167.40M163.60 489.50H167.40" fill="none" stroke="#303030" stroke-width="0.85"/>
<path d="M165.50 488.50V514.50M163.60 488.50H167.40M163.60 514.50H167.40" fill="none" stroke="#303030" stroke-width="0.85"/>
<path d="M200.50 458.50V486.50M198.60 458.50H202.40M198.60 486.50H202.40" fill="none" stroke="#303030" stroke-width="0.85"/>
<path d="M200.50 476.50V503.50M198.60 476.50H202.40M198.60 503.50H202.40" fill="none" stroke="#303030" stroke-width="0.85"/>
<path d="M221.50 472.50V492.50M219.60 472.50H223.40M219.60 492.50H223.40" fill="none" stroke="#303030" stroke-width="0.85"/>
<path d="M221.50 474.50V503.50M219.60 474.50H223.40M219.60 503.50H223.40" fill="none" stroke="#303030" stroke-width="0.85"/>
<path d="M251.50 462.50V490.50M249.60 462.50H253.40M249.60 490.50H253.40" fill="none" stroke="#303030" stroke-width="0.85"/>
<path d="M251.50 470.50V499.50M249.60 470.50H253.40M249.60 499.50H253.40" fill="none" stroke="#303030" stroke-width="0.85"/>
<polyline points="36.50,462.90 66.50,520.80 96.50,535.50 131.50,532.20 165.50,500.70 200.50,489.60 221.50,487.40 251.50,481.00" fill="none" stroke="#262626" stroke-width="0.95" stroke-linejoin="round"/>
<polyline points="36.50,467.90 66.50,525.00 96.50,533.30 131.50,520.20 165.50,482.70 200.50,472.60 221.50,481.80 251.50,476.20" fill="none" stroke="#262626" stroke-width="0.95" stroke-linejoin="round"/>
<rect x="34.35" y="460.75" width="4.3" height="4.3" fill="none" stroke="#3a3a3a" stroke-width="0.9"/>
<rect x="64.35" y="518.65" width="4.3" height="4.3" fill="none" stroke="#3a3a3a" stroke-width="0.9"/>
<rect x="94.35" y="533.35" width="4.3" height="4.3" fill="none" stroke="#3a3a3a" stroke-width="0.9"/>
<rect x="129.35" y="530.05" width="4.3" height="4.3" fill="none" stroke="#3a3a3a" stroke-width="0.9"/>
<rect x="163.35" y="498.55" width="4.3" height="4.3" fill="none" stroke="#3a3a3a" stroke-width="0.9"/>
<rect x="198.35" y="487.45" width="4.3" height="4.3" fill="none" stroke="#3a3a3a" stroke-width="0.9"/>
<rect x="219.35" y="485.25" width="4.3" height="4.3" fill="none" stroke="#3a3a3a" stroke-width="0.9"/>
<rect x="249.35" y="478.85" width="4.3" height="4.3" fill="none" stroke="#3a3a3a" stroke-width="0.9"/>
<circle cx="36.50" cy="467.90" r="2.3" fill="#000"/>
<circle cx="66.50" cy="525.00" r="2.3" fill="#000"/>
<circle cx="96.50" cy="533.30" r="2.3" fill="#000"/>
<circle cx="131.50" cy="520.20" r="2.3" fill="#000"/>
<circle cx="165.50" cy="482.70" r="2.3" fill="#000"/>
<circle cx="200.50" cy="472.60" r="2.3" fill="#000"/>
<circle cx="221.50" cy="481.80" r="2.3" fill="#000"/>
<circle cx="251.50" cy="476.20" r="2.3" fill="#000"/>
<text transform="translate(33.4 455.07) scale(0.9 1)" font-size="10.2" text-anchor="end" fill="#111" stroke="#111" stroke-width="0.22">1.0</text>
<text transform="translate(33.4 472.07) scale(0.9 1)" font-size="10.2" text-anchor="end" fill="#111" stroke="#111" stroke-width="0.22">0.8</text>
<text transform="translate(33.4 489.37) scale(0.9 1)" font-size="10.2" text-anchor="end" fill="#111" stroke="#111" stroke-width="0.22">0.6</text>
<text transform="translate(30.8 506.74) scale(0.9 1)" font-size="10.4" text-anchor="end" fill="#111" stroke="#111" stroke-width="0.22">0.4</text>
<text transform="translate(30.8 523.84) scale(0.9 1)" font-size="10.4" text-anchor="end" fill="#111" stroke="#111" stroke-width="0.22">0.2</text>
<text transform="translate(30.8 541.44) scale(0.9 1)" font-size="10.4" text-anchor="end" fill="#111" stroke="#111" stroke-width="0.22">0</text>
<text transform="translate(37.6 552.38) scale(0.95 1)" font-size="10.8" text-anchor="middle" fill="#111" stroke="#111" stroke-width="0.22">0</text>
<text transform="translate(78.8 552.38) scale(0.95 1)" font-size="10.8" text-anchor="middle" fill="#111" stroke="#111" stroke-width="0.22">10</text>
<text transform="translate(121.7 552.38) scale(0.95 1)" font-size="10.8" text-anchor="middle" fill="#111" stroke="#111" stroke-width="0.22">20</text>
<text transform="translate(165.4 552.38) scale(0.95 1)" font-size="10.8" text-anchor="middle" fill="#111" stroke="#111" stroke-width="0.22">30</text>
<text transform="translate(205.2 552.38) scale(0.95 1)" font-size="10.8" text-anchor="middle" fill="#111" stroke="#111" stroke-width="0.22">40</text>
<text transform="translate(249.7 552.38) scale(0.95 1)" font-size="10.8" text-anchor="middle" fill="#111" stroke="#111" stroke-width="0.22">50</text>
<text x="114.10" y="436.02" font-size="9.4" text-anchor="start" fill="#000" font-weight="bold" textLength="58.20" lengthAdjust="spacingAndGlyphs" stroke="#000" stroke-width="0.2">Platelet counts</text>
<text x="117.60" y="570.45" font-size="9.5" text-anchor="start" fill="#000" textLength="61.00" lengthAdjust="spacingAndGlyphs" stroke="#111" stroke-width="0.22">Days post 9Gy</text>
<text transform="translate(14.80 520.00) rotate(-90)" font-size="9.6" font-weight="bold" fill="#000" stroke="#000" stroke-width="0.2" textLength="76.00" lengthAdjust="spacingAndGlyphs">platelets (10⁶/µl)</text>
<text x="81.30" y="520.96" font-size="10.5" text-anchor="start" fill="#000" textLength="32.80" lengthAdjust="spacingAndGlyphs" stroke="#000" stroke-width="0.08">P=0.01</text>
<text x="101.60" y="501.46" font-size="10.5" text-anchor="start" fill="#000" textLength="45.70" lengthAdjust="spacingAndGlyphs" stroke="#000" stroke-width="0.08">P=0.0002</text>
<text x="145.30" y="475.26" font-size="10.5" text-anchor="start" fill="#000" textLength="33.40" lengthAdjust="spacingAndGlyphs" stroke="#000" stroke-width="0.08">P=0.01</text>
<text x="183.70" y="452.96" font-size="10.5" text-anchor="start" fill="#000" textLength="33.40" lengthAdjust="spacingAndGlyphs" stroke="#000" stroke-width="0.08">P=0.02</text>
</g>
</g>
</svg>
</body>
</html>
